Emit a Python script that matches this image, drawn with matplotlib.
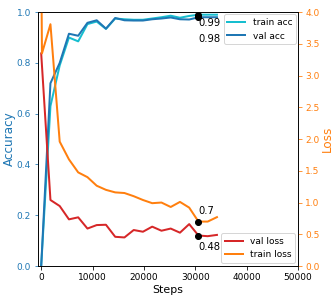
import numpy as np
import matplotlib
matplotlib.use("Agg")
from matplotlib import pyplot as plt

# logged steps
steps = np.arange(0, 34201, 1800)
train_loss_steps = np.concatenate([[0, 150], steps[1:]])

train_acc = [0.0, 0.63, 0.79, 0.90, 0.885, 0.953, 0.963, 0.934, 0.975, 0.972,
             0.97, 0.97, 0.975, 0.98, 0.986, 0.978, 0.985, 0.99, 0.99, 0.99]
val_acc = [0.0, 0.72, 0.80, 0.915, 0.907, 0.958, 0.968, 0.935, 0.977, 0.968,
           0.967, 0.967, 0.972, 0.975, 0.979, 0.972, 0.971, 0.98, 0.98, 0.98]
val_loss = [3.35, 1.04, 0.945, 0.735, 0.767, 0.59, 0.645, 0.65, 0.46, 0.45,
            0.567, 0.54, 0.62, 0.556, 0.59, 0.525, 0.66, 0.48, 0.47, 0.49]
train_loss = [5.0, 3.35, 3.81, 1.96, 1.68, 1.475, 1.40, 1.265, 1.20, 1.16, 1.15,
              1.10, 1.04, 0.99, 1.0, 0.93, 1.01, 0.92, 0.70, 0.70, 0.77]

# points called out on the chart
mark_step = 30600
mark_acc = [0.99, 0.98]
mark_loss = [0.7, 0.48]

DPI = 72
fig = plt.figure(figsize=(335 / DPI, 304 / DPI), dpi=DPI)
ax = fig.add_axes([0.113, 0.125, 0.777, 0.835])
ax2 = ax.twinx()

c_acc = "#1f77b4"
c_loss = "#ff7f0e"

ax.plot(steps, train_acc, color="#17becf", lw=2, label="train acc")
ax.plot(steps, val_acc, color="#1f77b4", lw=2, label="val acc")
ax.plot([mark_step] * 2, mark_acc, "o", color="black", ms=6)
ax.annotate("%.2f" % mark_acc[0], (mark_step, mark_acc[0]), xytext=(0, -8),
            textcoords="offset pixels", ha="left", va="center", fontsize=10)
ax.annotate("%.2f" % mark_acc[1], (mark_step, mark_acc[1]), xytext=(0, -22),
            textcoords="offset pixels", ha="left", va="center", fontsize=10)

ax2.plot(steps, val_loss, color="#d62728", lw=2, label="val loss")
ax2.plot(train_loss_steps, train_loss, color=c_loss, lw=2, label="train loss")
ax2.plot([mark_step] * 2, mark_loss, "o", color="black", ms=6)
ax2.annotate(str(mark_loss[0]), (mark_step, mark_loss[0]), xytext=(0, 11),
             textcoords="offset pixels", ha="left", va="center", fontsize=10)
ax2.annotate(str(mark_loss[1]), (mark_step, mark_loss[1]), xytext=(0, -11),
             textcoords="offset pixels", ha="left", va="center", fontsize=10)

ax.set_xlim(-650, 50000)
ax.set_ylim(0, 1.0)
ax2.set_ylim(0, 4.0)
ax.set_xticks([0, 10000, 20000, 30000, 40000, 50000])

ax.set_xlabel("Steps", fontsize=11, labelpad=3)
ax.set_ylabel("Accuracy", color=c_acc, fontsize=12, labelpad=1)
ax2.set_ylabel("Loss", color=c_loss, fontsize=12, labelpad=1)
ax.tick_params(axis="x", labelsize=9)
ax.tick_params(axis="y", colors=c_acc, labelsize=9)
ax2.tick_params(axis="y", colors=c_loss, labelsize=9)

ax.legend(loc="upper right", fontsize=9, handlelength=2, borderaxespad=0.25)
ax2.legend(loc="lower right", fontsize=9, handlelength=2, borderaxespad=0.35)

fig.savefig("out.png", dpi=DPI)
